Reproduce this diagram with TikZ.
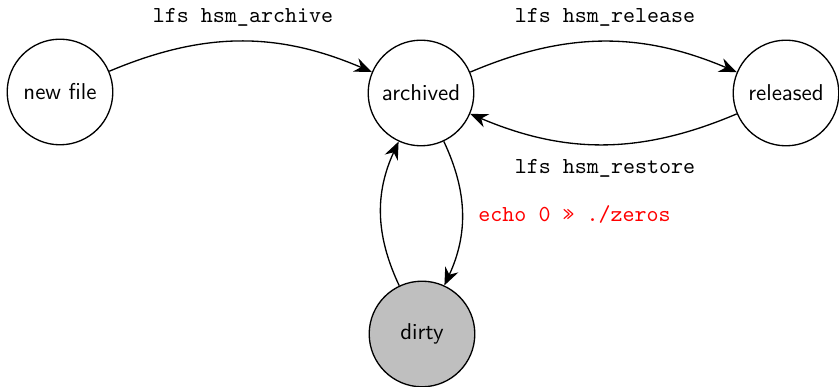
\documentclass[tikz,border=0pt]{standalone}
\usetikzlibrary{arrows.meta}
\begin{document}
\begin{tikzpicture}[x=0.4545pt,y=-0.4545pt,
  state/.style={circle,draw,semithick,minimum size=48pt,inner sep=0pt,font=\fontsize{10.4}{12}\sffamily},
  trans/.style={-{Stealth[length=8pt,width=6.5pt,inset=2.6pt]},semithick},
  cmd/.style={font=\fontsize{10.4}{12}\ttfamily,inner sep=0pt}]
\useasboundingbox (0,0) rectangle (839,387);
\node[state] (new) at (60,92) {new file};
\node[state] (arch) at (421,93) {archived};
\node[state] (rel) at (786,93) {released};
\node[state,fill=lightgray] (dirty) at (422,334) {dirty};
\draw[trans] (new) to[bend left=23] (arch);
\draw[trans] (arch) to[bend left=23] (rel);
\draw[trans] (rel) to[bend left=23] (arch);
\draw[trans] (arch) to[bend left=25] (dirty);
\draw[trans] (dirty) to[bend left=25] (arch);
\node[cmd] (l1) at (243,17) {lfs hsm\_archive};
\node[cmd] (l2) at (605,17) {lfs hsm\_release};
\node[cmd] (l3) at (605,168) {lfs hsm\_restore};
\node[cmd,text=red,anchor=west] (l4) at (478,215) {echo 0 » ./zeros};
\end{tikzpicture}
\end{document}
